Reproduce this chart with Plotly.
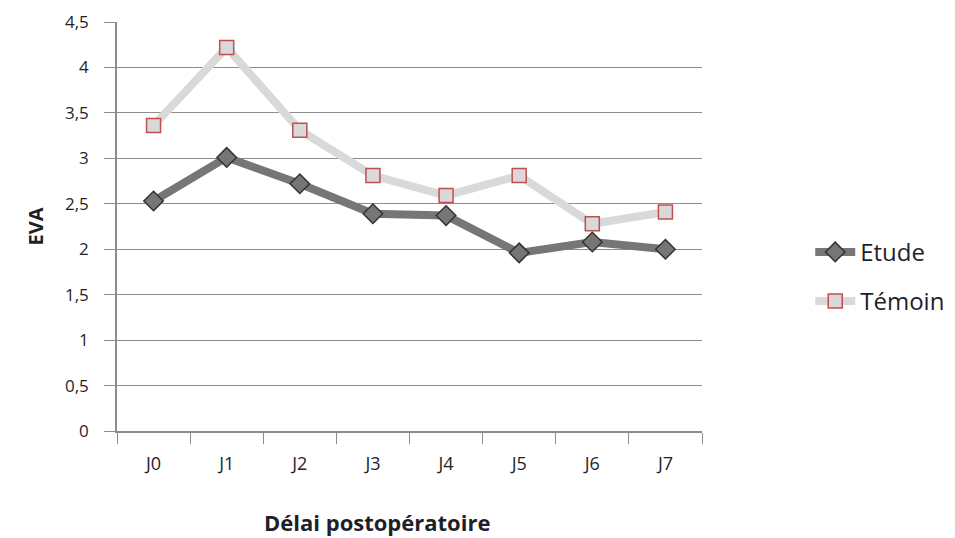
import plotly.graph_objects as go

# Pain score (EVA) by postoperative day
jours = ["J0", "J1", "J2", "J3", "J4", "J5", "J6", "J7"]
etude = [2.53, 3.01, 2.72, 2.39, 2.37, 1.96, 2.08, 2.00]
temoin = [3.36, 4.22, 3.31, 2.81, 2.59, 2.81, 2.28, 2.41]

y_ticks = [0, 0.5, 1, 1.5, 2, 2.5, 3, 3.5, 4, 4.5]
y_labels = ["0", "0,5", "1", "1,5", "2", "2,5", "3", "3,5", "4", "4,5"]

font_family = "Open Sans, sans-serif"
text_color = "#1f1f2a"
axis_gray = "#8c8c8c"

fig = go.Figure()

fig.add_trace(go.Scatter(
    x=jours, y=etude, name="Etude", mode="lines+markers", legendgroup="etude",
    line=dict(color="#767676", width=8),
    marker=dict(symbol="diamond", size=15, color="#767676",
                line=dict(color="#333333", width=1.5)),
))
fig.add_trace(go.Scatter(
    x=jours, y=temoin, name="Témoin", mode="lines+markers", legendgroup="temoin",
    line=dict(color="#d9d9d9", width=8),
    marker=dict(symbol="square", size=14, color="#d9d9d9",
                line=dict(color="#c0504d", width=1.5)),
))

# x-axis title, placed as a paper annotation
fig.add_annotation(
    text="<b>Délai postopératoire</b>", xref="paper", yref="paper",
    x=(377 - 117) / 585, y=-(522 - 431) / 409, xanchor="center", yanchor="middle",
    showarrow=False, font=dict(size=22, color=text_color, family=font_family),
)

fig.update_layout(
    width=955, height=538,
    margin=dict(l=117, r=253, t=22, b=107, autoexpand=False),
    paper_bgcolor="white", plot_bgcolor="white",
    font=dict(family=font_family, color=text_color, size=17),
    showlegend=True,
    legend=dict(
        x=1.185, y=0.377, xanchor="left", yanchor="middle",
        font=dict(size=24, color=text_color),
        traceorder="grouped", tracegroupgap=15, itemwidth=40,
        bgcolor="rgba(0,0,0,0)",
    ),
    xaxis=dict(
        type="category", range=[-0.5, 7.5],
        showgrid=False, showline=True, linecolor=axis_gray, linewidth=1.5,
        ticks="outside", tickson="boundaries", ticklen=11, tickcolor=axis_gray,
        ticklabelstandoff=16,
        tickfont=dict(size=18, color=text_color),
        zeroline=False,
    ),
    yaxis=dict(
        range=[0, 4.5], tickvals=y_ticks, ticktext=y_labels,
        showgrid=True, gridcolor=axis_gray, gridwidth=1.2,
        showline=True, linecolor=axis_gray, linewidth=1.5,
        ticks="outside", ticklen=11, tickcolor=axis_gray,
        ticklabelstandoff=12,
        tickfont=dict(size=17, color=text_color),
        title=dict(text="<b>EVA</b>", font=dict(size=20, color=text_color), standoff=16),
        zeroline=False,
    ),
)

fig.write_html("out.html")
